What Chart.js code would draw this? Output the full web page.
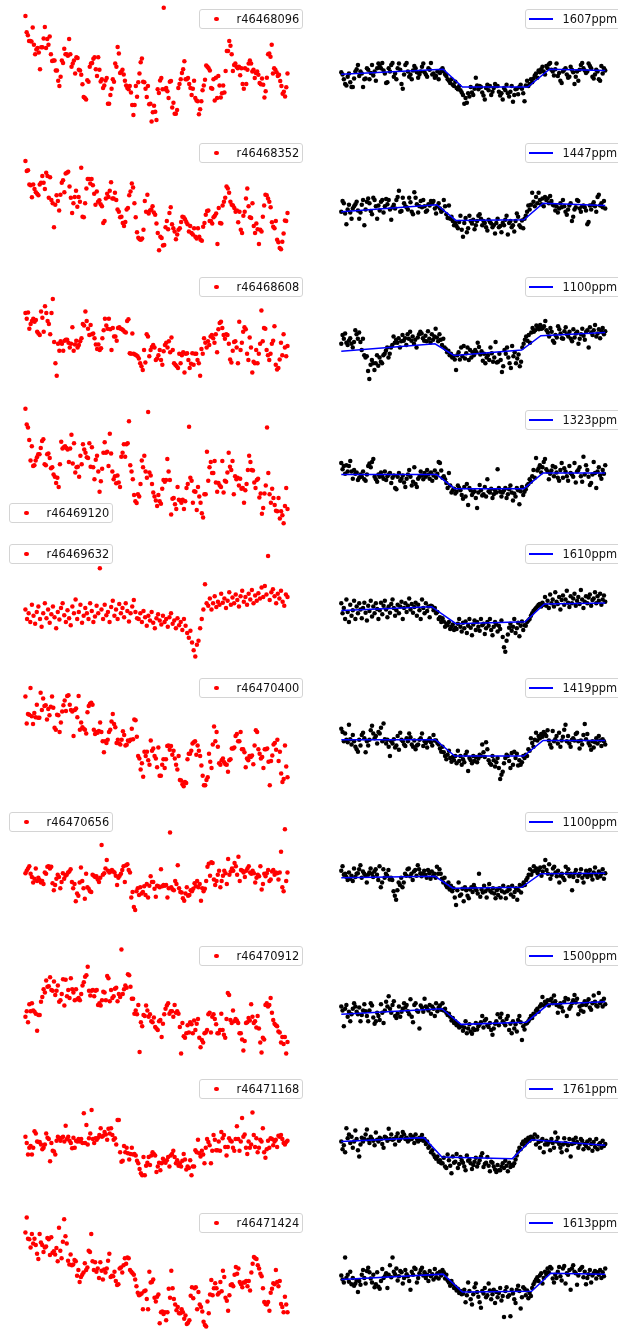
<!DOCTYPE html>
<html>
<head>
<meta charset="utf-8">
<script src="https://cdn.jsdelivr.net/npm/chart.js@4.4.1/dist/chart.umd.min.js"></script>
<style>
  html, body { margin: 0; padding: 0; background: #fff; }
  #fig { position: relative; width: 618px; height: 1330px; overflow: hidden; }
  #fig canvas { position: absolute; }
  .leg {
    position: absolute; box-sizing: border-box; height: 20px;
    border: 1px solid #d4d4d4; border-radius: 3px; background: rgba(255,255,255,0.8);
    font-family: "DejaVu Sans", sans-serif; font-size: 11.4px; color: #111;
    line-height: 18px; white-space: nowrap; z-index: 2;
  }
  .leg .dot { position: absolute; left: 14px; top: 6.5px; width: 4.6px; height: 4.6px; border-radius: 50%; background: #f00; }
  .leg .ln { position: absolute; left: 3px; top: 8px; width: 24px; height: 1.6px; background: #00f; }
  .leg .t { position: absolute; left: 36.5px; top: 0; }
</style>
</head>
<body>
<div id="fig"></div>
<script>
// one row per target: raw light curve (left) and detrended fit (right)
const targets = ["r46468096", "r46468352", "r46468608", "r46469120", "r46469632",
                 "r46470400", "r46470656", "r46470912", "r46471168", "r46471424"];
const depths = ["1607ppm", "1447ppm", "1100ppm", "1323ppm", "1610ppm",
                "1419ppm", "1100ppm", "1500ppm", "1761ppm", "1613ppm"];
const rawLegendCorner = ["ne", "ne", "ne", "sw", "nw", "ne", "nw", "ne", "ne", "ne"];

// dimming values (arbitrary units, larger = fainter), and the top of each panel's range
const rawTop = [0, -3, 399, 33, 435, -3, 9, 6, 405, 12];
const detTop = [0, -3, 399, 33, 435, -3, 399, 6, 405, 807];

const flux1 = [38,90,100,118,118,120,75,130,160,145,140,155,208,138,138,110,73,140,112,130,104,160,182,180,180,212,212,245,262,232,180,188,143,160,160,165,112,160,200,190,180,222,170,172,210,212,226,256,297,300,305,243,248,200,190,188,175,170,208,230,170,210,247,240,268,260,244,236,318,318,290,270,240,248,190,200,137,158,220,216,210,225,245,260,268,272,262,282,322,354,322,262,296,250,222,186,174,248,250,270,297,262,320,318,375,345,325,344,370,272,284,244,236,272,12,272,268,278,300,248,246,330,315,350,350,338,268,255,240,220,208,183,240,240,236,255,268,290,270,245,300,308,310,352,336,310,275,260,242,196,200,205,212,268,270,240,308,235,300,230,260,298,285,260,282,214,150,150,118,133,160,214,195,190,200,205,200,227,205,255,270,205,255,210,190,180,190,215,210,236,220,215,226,252,256,238,258,298,278,235,160,158,168,130,222,205,210,218,230,226,246,262,286,280,295,266,222];
const flux2 = [70,102,100,145,148,186,145,160,170,175,180,145,140,118,140,160,108,118,188,122,195,205,282,210,180,198,228,178,140,132,170,110,108,105,152,188,236,205,185,165,216,185,200,92,248,250,205,158,128,128,142,128,148,175,210,168,200,196,208,215,268,262,190,175,185,165,138,190,190,172,195,225,232,250,248,268,278,265,225,220,180,168,142,155,205,250,298,315,320,322,318,290,198,232,178,238,228,225,215,235,242,270,300,355,312,316,340,338,282,262,288,236,218,272,285,295,320,305,290,285,265,248,250,256,265,272,295,278,300,305,285,312,318,285,312,322,325,280,268,242,230,228,262,262,270,250,245,238,335,220,268,270,212,200,188,152,158,172,200,210,212,220,232,228,266,232,290,300,245,232,190,158,215,250,252,205,278,300,270,288,335,290,295,248,212,178,180,190,200,218,266,280,285,262,322,330,348,352,328,302,260,262,236];
const flux3 = [530,548,528,580,565,555,548,558,552,590,595,600,525,545,590,508,530,555,565,598,530,485,622,690,730,628,650,620,628,650,618,615,615,625,640,628,575,650,630,618,640,632,620,610,565,570,525,555,580,600,568,598,595,610,630,645,630,648,642,610,585,548,570,580,548,582,648,578,605,605,618,578,575,580,582,585,590,592,555,550,658,660,595,660,662,665,668,675,690,700,712,648,688,598,605,668,648,638,632,640,680,675,665,648,680,695,652,632,625,640,620,655,608,648,690,695,700,705,660,690,665,655,720,660,658,680,705,692,658,695,660,660,680,690,730,645,660,610,625,640,620,632,605,600,610,625,598,655,582,562,558,578,600,612,598,600,628,678,688,650,622,620,640,690,558,648,625,590,575,582,660,680,608,640,720,685,690,648,690,660,628,522,620,578,580,648,665,680,660,628,618,572,695,710,705,678,625,665,598,640,668,635];
const flux4 = [45,95,105,145,210,165,228,225,210,200,190,190,170,148,142,222,225,190,188,202,235,232,255,262,282,265,295,222,150,172,168,165,170,175,215,172,128,220,155,248,232,230,262,195,222,158,175,185,200,202,155,230,168,232,270,208,195,245,310,276,236,185,152,185,182,228,125,188,245,270,260,283,258,280,295,198,185,158,198,158,155,85,225,245,270,320,340,346,318,325,285,210,232,195,245,265,55,248,258,285,312,325,338,355,320,340,348,300,272,278,272,205,245,272,382,332,330,350,365,295,335,338,345,335,365,340,298,285,102,265,275,345,308,310,368,295,325,345,378,392,318,318,182,275,232,215,250,250,212,280,310,282,290,295,212,312,275,278,248,185,230,240,212,318,260,270,265,290,268,300,298,345,305,285,240,195,215,240,242,280,298,272,268,328,315,380,362,315,290,105,250,318,345,300,330,352,370,372,330,395,372,385,410,355,298,365];
const flux5 = [660,690,672,700,645,680,705,668,650,690,715,672,640,688,660,702,675,650,685,720,668,692,655,640,678,700,662,688,710,650,672,628,690,668,645,702,680,655,672,690,640,665,700,682,648,672,528,660,690,645,678,668,700,652,632,680,660,690,642,672,655,685,640,665,698,672,650,630,668,688,690,672,700,665,685,712,680,695,668,702,720,688,675,695,708,680,700,690,715,685,672,705,695,720,688,710,700,725,690,712,735,750,728,765,790,810,772,760,720,690,660,579,640,648,625,660,640,618,652,635,645,610,638,625,655,632,605,645,622,640,612,630,650,618,600,635,620,645,610,628,598,640,615,632,608,625,590,620,585,612,489,630,605,595,618,640,610,625,600,635,648,612,620];
const flux6 = [72,158,128,130,45,135,160,125,138,98,140,140,60,115,78,102,100,145,112,132,105,72,108,172,178,130,132,185,155,120,100,85,118,70,68,98,115,120,198,115,110,138,70,178,155,170,175,178,190,122,102,95,92,98,178,192,185,188,182,155,185,215,250,215,220,210,185,178,152,128,160,170,220,210,222,225,210,183,195,228,226,212,215,210,175,208,145,148,200,262,270,305,285,328,248,262,248,275,290,212,245,238,262,270,298,235,325,325,290,272,300,272,230,228,242,230,258,245,270,290,305,262,338,340,352,358,345,348,272,255,255,245,222,218,215,258,228,245,262,292,325,355,355,338,330,255,280,300,225,168,215,185,232,285,290,275,270,282,288,290,312,275,272,238,238,235,198,192,215,215,185,240,240,250,298,270,275,262,265,260,288,228,180,185,240,255,270,265,300,240,240,238,280,355,278,260,225,220,242,210,278,248,318,345,335,228,295,330];
const flux7 = [220,212,205,198,222,232,250,238,205,245,235,242,250,245,255,218,222,200,198,205,200,252,275,258,238,225,232,268,248,220,238,228,225,218,215,208,248,268,255,310,285,292,250,202,245,268,302,222,265,270,278,280,225,228,232,230,240,248,235,130,225,220,205,178,212,218,215,210,215,218,228,258,235,228,222,210,198,248,195,192,210,218,298,280,328,338,278,268,290,265,285,280,262,290,255,298,260,230,248,248,270,295,260,262,265,208,262,258,260,258,298,268,90,265,272,275,245,255,195,268,280,282,300,308,285,265,292,290,275,278,270,252,262,245,265,255,308,268,278,270,245,200,190,228,185,188,240,258,245,225,212,265,245,228,212,220,255,175,225,215,205,212,188,198,225,168,245,210,212,218,232,212,205,198,218,222,212,220,250,235,225,230,198,272,255,222,230,220,210,245,240,215,210,225,218,220,240,218,152,265,278,80,245,218];
const flux8 = [248,230,265,208,230,205,228,232,238,292,242,242,200,185,160,170,132,152,150,122,162,165,135,178,165,148,200,195,175,128,212,130,182,162,188,125,160,170,195,160,192,188,195,175,148,138,120,115,88,165,180,165,162,182,165,162,210,205,212,195,168,170,195,118,125,198,162,188,182,158,155,198,175,185,33,175,160,148,155,112,115,152,190,190,238,228,240,210,360,265,278,242,245,212,228,248,240,262,265,250,280,285,290,262,258,312,270,240,222,212,205,238,230,230,248,210,235,230,238,280,365,268,310,315,300,275,298,265,272,300,260,290,270,255,315,345,322,330,300,298,290,240,235,298,248,240,255,272,300,300,290,238,290,305,315,255,172,178,258,268,228,262,255,260,268,300,300,320,355,325,268,265,252,260,208,248,268,262,282,245,285,330,362,315,320,210,205,215,210,188,235,258,270,275,278,295,298,330,312,335,312,365,328];
const flux9 = [605,625,662,640,635,662,640,588,595,620,622,622,630,645,640,630,595,608,612,683,625,650,652,662,618,605,610,618,608,605,620,570,612,605,618,625,642,608,640,618,620,612,620,612,625,530,625,568,630,610,595,520,612,625,610,615,608,600,578,605,602,590,598,615,580,595,578,600,615,610,630,552,552,655,685,682,635,655,640,658,678,660,640,662,660,665,682,690,708,722,728,670,728,698,688,670,695,665,655,660,665,718,700,688,712,690,675,685,688,680,670,700,665,660,650,670,690,680,698,690,700,682,660,678,710,700,705,680,728,700,700,648,655,615,658,668,650,662,690,640,612,622,632,690,650,600,615,648,648,620,650,590,610,600,638,665,638,610,618,620,640,650,612,572,612,650,620,545,605,598,640,660,620,640,630,528,600,638,610,655,640,615,620,578,655,672,645,618,640,610,612,632,620,615,638,602,605,600,612,625,630,622,618];
const flux10 = [90,42,110,112,138,95,125,110,130,158,175,95,122,130,152,138,135,108,112,162,105,155,150,160,140,182,75,148,172,120,48,102,125,180,192,160,195,192,178,182,228,210,248,232,225,218,188,210,202,148,152,95,182,210,185,215,205,235,185,212,240,208,218,205,180,158,232,228,230,215,245,258,255,205,202,218,195,172,190,170,172,210,215,220,225,240,262,282,290,288,285,335,278,275,302,335,215,250,248,240,298,310,295,288,380,345,342,350,345,370,345,270,298,212,268,302,320,338,328,348,348,335,345,365,355,382,378,370,292,265,300,268,265,335,280,320,328,342,375,385,390,310,348,288,242,290,268,252,268,288,282,248,278,212,232,298,308,340,290,258,255,262,225,200,222,205,248,255,265,250,250,245,262,245,275,218,190,168,172,175,195,205,222,230,268,312,318,320,312,340,282,270,252,255,210,248,262,245,318,328,345,295,320,345];

const detr1 = [218,225,240,255,260,232,222,250,265,265,238,215,208,195,230,215,222,265,240,238,205,210,240,220,195,228,215,245,205,190,198,205,188,212,222,252,250,205,215,195,188,232,222,240,205,190,210,255,270,225,195,188,215,232,225,240,212,198,205,218,235,225,215,200,190,218,225,232,205,210,188,225,222,235,230,215,240,220,210,205,215,225,230,240,245,252,240,258,262,248,268,272,262,275,282,290,318,300,315,285,295,265,282,290,270,235,260,272,262,265,282,292,305,268,258,275,262,290,280,268,255,262,262,280,292,285,305,268,275,258,285,295,280,262,312,290,272,270,288,265,258,270,285,310,260,245,262,255,240,250,238,228,222,235,212,218,208,200,215,225,198,205,192,188,210,215,228,208,190,230,220,245,252,215,210,205,225,235,232,200,210,218,255,232,215,245,210,195,188,205,212,220,215,190,198,205,232,238,225,210,215,240,245,198,222,205,212];
const detr2 = [232,198,205,238,272,225,210,235,255,222,215,208,200,228,255,235,210,195,275,225,200,190,205,230,240,188,195,215,255,212,228,200,195,235,215,192,208,195,225,258,218,210,222,195,185,165,232,230,188,205,215,218,225,188,202,232,240,170,188,208,235,215,198,218,195,215,232,228,208,212,198,205,198,222,238,215,205,222,232,228,195,215,240,252,212,255,248,262,275,268,278,285,265,245,290,312,268,252,298,285,245,262,270,258,288,275,262,245,240,255,275,262,268,282,292,258,265,270,282,275,302,268,255,282,278,298,268,275,258,245,305,268,262,282,275,295,262,238,248,275,282,260,285,255,245,232,212,225,210,172,200,215,185,205,172,195,208,190,215,185,195,190,205,182,198,210,212,228,215,235,222,205,218,195,215,232,242,225,212,205,262,248,225,218,195,198,222,232,215,212,218,228,272,265,212,225,210,202,215,232,185,178,212,205,218,198,222];
const detr3 = [628,600,612,595,625,632,618,610,628,640,622,585,598,612,592,622,648,612,665,672,668,715,740,695,680,690,712,690,665,698,672,685,690,665,660,650,640,672,660,640,632,605,625,615,625,610,640,620,600,618,610,632,598,612,590,618,605,628,615,640,608,598,590,595,610,618,602,620,588,612,625,598,615,605,580,608,620,598,615,632,612,640,645,655,650,665,660,672,668,678,712,665,655,678,640,668,635,675,658,640,680,648,672,655,665,648,655,625,638,662,652,682,660,690,672,665,680,640,658,685,672,622,688,685,660,680,718,700,648,660,640,672,690,705,635,668,655,690,675,662,700,685,640,628,615,605,618,600,625,592,578,590,585,570,575,582,568,580,578,572,555,585,592,605,578,590,618,625,600,608,572,582,595,610,612,588,575,598,605,590,612,620,582,608,595,590,628,612,598,580,602,615,590,585,640,575,592,600,585,568,605,595,582,610,590,578,598,588];
const detr4 = [218,238,228,252,225,245,228,212,245,268,240,252,248,272,265,255,262,245,270,275,255,228,220,232,215,205,262,270,278,255,262,248,260,268,245,272,260,255,250,282,265,258,298,302,262,250,275,268,258,280,295,268,255,240,262,290,278,232,285,295,268,262,245,258,270,250,262,240,255,268,248,275,258,242,265,252,215,218,242,265,260,270,282,298,250,290,312,305,300,315,310,290,298,305,320,332,295,325,285,352,298,305,320,312,308,330,362,312,288,305,322,318,295,325,270,308,312,300,330,318,305,312,238,298,310,325,312,305,298,330,318,302,290,312,338,315,325,298,305,350,308,295,320,310,302,290,285,270,278,260,240,265,202,242,235,225,248,232,215,205,238,245,270,252,242,228,260,232,248,265,275,240,218,265,235,245,260,275,228,250,255,262,218,280,245,240,232,260,278,198,255,225,240,262,288,282,255,215,250,298,245,232,258,268,240,252,225];
const detr5 = [640,672,655,690,628,668,700,645,680,662,632,690,650,672,640,660,688,655,638,670,695,648,665,632,682,650,672,640,658,690,662,638,675,648,632,660,685,650,670,642,628,655,680,662,645,672,650,635,690,655,640,668,648,625,660,642,670,652,638,680,645,662,690,628,655,672,640,665,650,685,648,650,662,655,672,668,690,685,700,688,698,715,705,710,700,722,715,708,725,718,722,705,690,715,730,702,720,698,735,712,690,718,742,708,695,725,700,715,728,690,710,705,738,720,700,712,690,725,742,715,700,708,730,712,722,695,748,780,795,760,740,718,705,728,715,690,735,720,702,745,712,698,725,710,712,700,695,690,680,672,665,660,655,650,645,642,650,638,645,620,648,632,655,612,640,628,650,605,635,642,620,660,630,615,645,628,600,638,652,618,640,625,610,648,632,620,642,598,628,655,635,618,640,622,612,648,630,625,605,640,618,632,610,645,628,615,635];
const detr6 = [175,185,215,190,210,218,162,208,225,195,215,232,240,248,210,228,195,188,205,250,215,228,210,180,165,190,205,198,222,185,190,172,215,158,208,222,210,232,262,215,222,208,235,228,198,242,188,210,215,225,230,205,215,190,202,225,232,212,240,228,225,210,205,190,230,215,220,235,212,205,218,228,195,212,212,220,225,238,248,232,250,262,272,258,245,268,280,265,275,262,285,245,278,262,290,272,282,258,248,310,268,275,285,262,278,265,282,270,258,262,225,250,265,218,240,275,285,290,262,275,295,282,268,300,335,322,312,285,268,258,262,278,300,252,290,248,268,255,292,275,290,282,262,268,258,262,240,245,205,220,232,210,188,212,198,205,192,200,185,192,198,180,212,225,235,182,215,208,198,222,188,232,212,200,178,162,215,198,222,232,210,205,212,192,188,215,238,212,225,195,160,208,192,220,228,242,215,235,218,205,222,198,212,230,208,215,225];
const detr7 = [602,588,615,612,622,632,608,628,618,635,595,622,612,610,598,585,625,605,612,618,640,615,608,595,612,622,605,598,615,632,588,655,640,598,625,612,618,600,630,625,632,668,682,695,665,640,648,625,655,640,612,618,598,595,620,612,632,605,600,618,585,598,610,620,612,602,615,625,600,610,628,605,618,612,625,590,612,598,612,628,640,625,648,655,640,662,650,668,658,688,712,665,640,682,678,660,700,655,665,682,690,662,655,670,648,658,665,675,612,685,662,672,650,668,688,660,645,668,672,658,675,690,665,680,658,688,668,650,672,690,668,655,662,678,650,685,670,658,695,665,648,672,650,640,648,632,625,615,598,615,605,588,602,595,610,600,592,618,605,590,568,600,612,582,628,615,595,590,608,620,602,640,618,612,625,632,590,610,598,620,612,665,622,610,600,635,618,612,598,625,640,615,602,622,612,600,618,630,608,592,615,625,605,620,612,598,628,610];
const detr8 = [215,228,278,222,210,248,232,262,240,222,205,215,232,240,218,262,242,228,208,230,245,262,228,205,212,250,270,262,235,245,258,208,235,268,228,200,215,182,222,235,210,198,245,252,238,215,248,232,222,205,218,210,230,240,192,248,265,210,205,228,232,285,212,218,232,190,215,222,228,210,238,215,222,245,205,230,218,212,225,205,228,222,235,242,238,248,260,252,268,262,275,270,282,278,278,292,282,262,300,285,272,295,302,285,290,268,288,278,272,265,245,282,260,255,275,280,268,290,305,285,270,262,240,275,250,238,262,268,275,255,245,290,270,300,262,285,272,295,258,245,265,322,278,288,270,268,262,255,245,252,238,240,228,222,232,215,208,185,212,200,205,195,212,195,190,205,180,198,210,235,215,205,218,230,200,188,245,192,222,215,205,195,178,202,190,240,215,228,210,232,198,210,202,192,218,225,205,180,200,212,215,172,205,198,215,190,208];
const detr9 = [620,645,632,655,578,610,598,625,605,640,620,585,612,648,668,630,608,620,612,598,582,615,625,605,612,618,632,592,615,620,608,612,628,640,605,608,618,580,612,598,615,612,630,605,595,618,612,605,590,598,612,608,620,615,600,612,605,625,598,612,620,608,615,600,618,612,628,620,640,635,655,648,662,670,675,668,685,680,690,690,672,700,705,662,680,698,722,668,688,685,660,705,692,670,680,688,700,712,665,682,678,690,708,695,685,672,700,690,680,668,658,702,692,688,670,698,715,685,688,700,710,718,695,712,712,700,690,705,682,698,715,688,702,695,698,690,678,665,652,640,645,628,620,632,615,622,608,618,605,608,612,598,630,605,622,640,618,612,655,630,618,630,622,648,612,625,640,592,620,608,628,640,655,630,610,625,648,632,612,668,628,615,625,608,622,640,630,612,618,645,628,635,620,642,615,628,650,622,638,612,645,630,625,640,618,635,628];
const detr10 = [1022,1035,1045,965,1030,1020,1042,1010,1050,1030,1055,1048,1038,1075,1040,1052,1020,1005,1030,1048,1008,998,1012,1032,1045,1020,1060,1050,1012,1058,1065,1040,1002,1030,1025,1015,1062,1020,990,1028,965,1010,1018,1000,1038,1025,1008,1012,1048,1030,1005,1018,1025,1040,1068,1010,1020,998,1002,1045,1030,1015,1005,998,1022,1012,1030,1020,1040,1008,1025,1018,1035,1002,1028,1015,1032,1010,1022,1005,1012,1032,1020,1038,1045,1055,1040,1050,1062,1058,1070,1065,1078,1072,1082,1080,1068,1108,1085,1045,1072,1098,1115,1082,1060,1048,1075,1090,1108,1125,1072,1080,1062,1092,1085,1048,1070,1098,1082,1068,1110,1075,1092,1078,1062,1102,1088,1155,1072,1060,1090,1085,1152,1068,1080,1098,1110,1068,1055,1072,1128,1092,1060,1065,1085,1070,1095,1078,1088,1062,1050,1042,1035,1028,1040,1022,1015,1048,1030,1010,1020,1000,1012,995,1000,1032,1045,1020,1030,1010,995,1025,1038,1000,992,1048,1015,1020,1005,1068,1000,990,1010,1015,1052,1022,1005,1000,995,1028,1010,1050,1030,1018,1005,1045,1022,1015,1008,1032,1012,1020,1005,1030,1012,1025,1000];

// transit model: sample index of each knot and its value
const fitAt1 = [0, 79.5, 94.5, 145.5, 162.5, 206];
const fitVal1 = [224, 208, 265, 265, 208, 212];
const fitAt2 = [0, 74.5, 89.5, 142.5, 157.5, 206];
const fitVal2 = [232, 210, 260, 258, 205, 212];
const fitAt3 = [0, 73.5, 88.5, 141.5, 156.5, 207];
const fitVal3 = [652, 628, 665, 648, 602, 592];
const fitAt4 = [0, 74.5, 88.5, 142.5, 157.5, 206];
const fitVal4 = [255, 255, 300, 300, 250, 250];
const fitAt5 = [0, 70.5, 89.5, 143.5, 158.5, 206];
const fitVal5 = [663, 651, 705, 699, 642, 639];
const fitAt6 = [0, 73.5, 88.5, 142.5, 157.5, 206];
const fitVal6 = [210, 210, 262, 262, 212, 212];
const fitAt7 = [0, 73.5, 87.5, 141.5, 156.5, 207];
const fitVal7 = [625, 620, 658, 655, 612, 610];
const fitAt8 = [0, 78.5, 93.5, 144.5, 161.5, 206];
const fitVal8 = [240, 222, 272, 265, 208, 200];
const fitAt9 = [0, 64.5, 78.5, 133.5, 148.5, 206];
const fitVal9 = [620, 608, 670, 675, 615, 632];
const fitAt10 = [0, 79.5, 94.5, 148.5, 163.5, 206];
const fitVal10 = [1035, 1018, 1075, 1073, 1015, 1018];

const fluxes = [flux1, flux2, flux3, flux4, flux5, flux6, flux7, flux8, flux9, flux10];
const detrs = [detr1, detr2, detr3, detr4, detr5, detr6, detr7, detr8, detr9, detr10];
const fitAts = [fitAt1, fitAt2, fitAt3, fitAt4, fitAt5, fitAt6, fitAt7, fitAt8, fitAt9, fitAt10];
const fitVals = [fitVal1, fitVal2, fitVal3, fitVal4, fitVal5, fitVal6, fitVal7, fitVal8, fitVal9, fitVal10];

const fig = document.getElementById("fig");
const ROW_H = 133.8;
const PANEL_H = 134;

function drawPanel(row, isRaw) {
  const top = Math.round(ROW_H * row);
  const width = isRaw ? 310 : 308;
  const firstPx = isRaw ? 22 : 28;
  const span = isRaw ? 269 : 271; // width covered by the samples
  const cv = document.createElement("canvas");
  cv.width = width;
  cv.height = PANEL_H;
  cv.style.left = (isRaw ? 0 : 310) + "px";
  cv.style.top = top + "px";
  fig.appendChild(cv);

  const vals = isRaw ? fluxes[row] : detrs[row];
  const n = vals.length - 1;
  const yTop = isRaw ? rawTop[row] : detTop[row];

  const datasets = [];
  if (!isRaw) {
    datasets.push({
      type: "line",
      data: fitAts[row].map((x, k) => ({ x, y: fitVals[row][k] })),
      borderColor: "#0000ff",
      borderWidth: 1.5,
      pointRadius: 0,
      fill: false,
      tension: 0,
      order: 0,
    });
  }
  datasets.push({
    type: "scatter",
    data: vals.map((v, k) => ({ x: k, y: v })),
    backgroundColor: isRaw ? "#ff0000" : "#000000",
    pointRadius: 2.25,
    borderWidth: 0,
    order: 1,
  });

  new Chart(cv, {
    type: "scatter",
    data: { datasets },
    options: {
      responsive: false,
      animation: false,
      devicePixelRatio: 1,
      events: [],
      layout: { padding: 0 },
      plugins: { legend: { display: false }, tooltip: { enabled: false } },
      scales: {
        x: { type: "linear", display: false, min: -n * firstPx / span, max: n * (width - firstPx) / span },
        y: { type: "linear", display: false, reverse: true, min: yTop, max: yTop + 3 * PANEL_H },
      },
    },
  });
}

function addLegend(row, isRaw) {
  const top = ROW_H * row;
  const box = document.createElement("div");
  box.className = "leg";
  if (isRaw) {
    const corner = rawLegendCorner[row];
    box.style.width = "104px";
    box.style.left = (corner === "ne" ? 199 : 9) + "px";
    box.style.top = Math.round(top + (corner === "sw" ? 101.5 : 9)) + "px";
    box.innerHTML = '<span class="dot"></span><span class="t">' + targets[row] + "</span>";
  } else {
    box.style.width = "100px";
    box.style.left = "525px";
    box.style.top = Math.round(top + 9) + "px";
    box.innerHTML = '<span class="ln"></span><span class="t">' + depths[row] + "</span>";
  }
  fig.appendChild(box);
}

for (let r = 0; r < targets.length; r++) {
  drawPanel(r, true);
  drawPanel(r, false);
  addLegend(r, true);
  addLegend(r, false);
}
</script>
</body>
</html>
